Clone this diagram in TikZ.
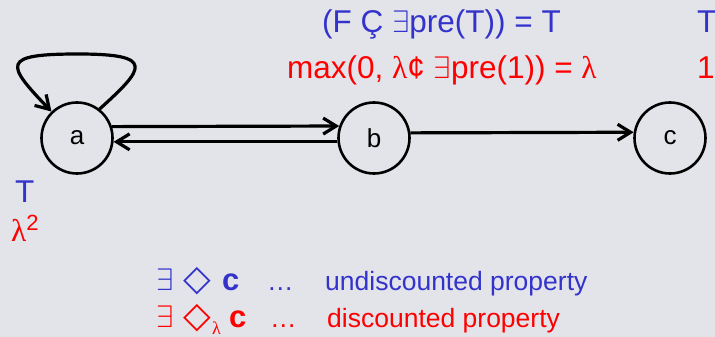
\documentclass[tikz,border=0pt]{standalone}
\usepackage{fontspec}
\usepackage{graphicx}
\setmainfont{Liberation Sans}
\newfontfamily\dvsans{DejaVu Sans}
\newfontfamily\lserif{Liberation Serif}
\usetikzlibrary{arrows.meta}
\definecolor{bgcol}{RGB}{227,228,234}
\definecolor{blu}{RGB}{51,51,204}
\definecolor{rd}{RGB}{255,0,0}
\newcommand{\exsym}{\scalebox{1.25}{$\exists$}}
\tikzset{
  state/.style={draw, circle, line width=2.6pt, minimum size=71pt, inner sep=0pt,
    font=\fontsize{26}{26}\selectfont},
  trans/.style={line width=3.2pt, -{Straight Barb[length=13pt,width=16pt]}},
  txt/.style={anchor=base west, inner sep=0pt, font=\fontsize{31.5}{31.5}\selectfont},
  small/.style={anchor=base west, inner sep=0pt, font=\fontsize{26.5}{26.5}\selectfont},
}
\begin{document}
\begin{tikzpicture}[x=1pt, y=-1pt]
  % Background
  \useasboundingbox (0,0) rectangle (715,337);
  \clip (0,0) rectangle (715,337);
  \fill[bgcol] (0,0) rectangle (715,337);
  % States
  \node[state] (a) at (77,138) {a};
  \node[state] (b) at (374,138) {b};
  \node[state] (c) at (670,138) {c};
  % Transitions
  \draw[trans] (a.52) .. controls (145,68) and (156,54) .. (78,54)
    .. controls (0,54) and (6,64) .. (a.134);
  \draw[trans] (a.18.5) -- (b.161);
  \draw[trans] (b.186) -- (a.-6.5);
  \draw[trans] (b.8.8) -- (c.171);
  % Top labels
  \node[txt, blu] (fix1) at (322,33) {(F Ç \exsym pre(T)) = T};
  \node[txt, rd] (fix2) at (287,78) {max(0, {\lserif λ}¢ \exsym pre(1)) = {\lserif λ}};
  \node[txt, blu] (c1) at (697,33) {T};
  \node[txt, rd] (c2) at (697,78) {1};
  % Labels of a
  \node[txt, blu] (a1) at (15,202) {T};
  \node[txt, rd] (a2) at (11,241) {{\lserif λ}\raisebox{11pt}{\fontsize{22}{22}\selectfont 2}};
  % Legend
  \node[small, blu] (ex1) at (156,290) {\exsym};
  \node[small, blu] (dia1) at (183,290) {\dvsans\fontsize{36}{36}\selectfont ◇};
  \node[small, blu, font=\fontsize{31}{31}\selectfont] (st1) at (222,290) {\bfseries c};
  \node[small, blu] (dots1) at (267,290) {\dots};
  \node[small, blu] (undisc) at (325,290) {undiscounted property};
  \node[small, rd] (ex2) at (156,327) {\exsym};
  \node[small, rd] (dia2) at (183,327) {\dvsans\fontsize{36}{36}\selectfont ◇};
  \node[anchor=base west, inner sep=0pt, rd, font=\lserif\fontsize{18}{18}\selectfont] (lam) at (212,334) {λ};
  \node[small, rd, font=\fontsize{31}{31}\selectfont] (st2) at (229,327) {\bfseries c};
  \node[small, rd] (dots2) at (270,327) {\dots};
  \node[small, rd] (disc) at (327,327) {discounted property};
\end{tikzpicture}
\end{document}
